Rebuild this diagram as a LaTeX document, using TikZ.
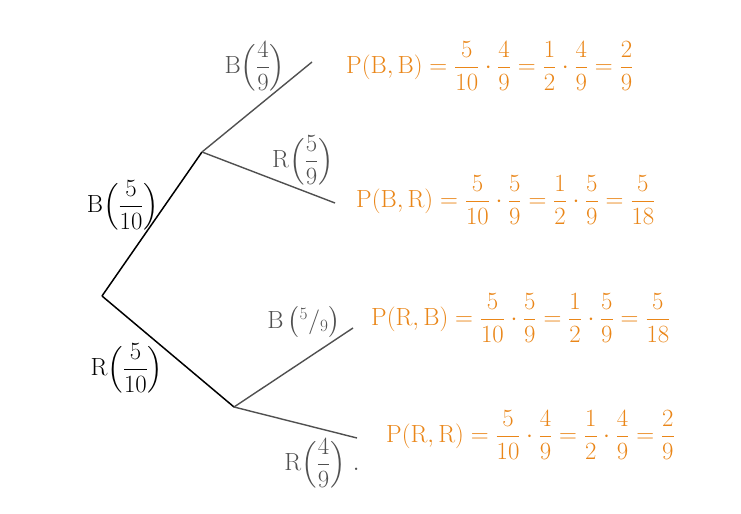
\documentclass[tikz,border=0pt]{standalone}
\usepackage{amsmath,amssymb}
\usepackage{tikz}
\usetikzlibrary{positioning}
\definecolor{penorange}{RGB}{234,134,24}
\definecolor{pengray}{RGB}{80,80,80}

\begin{document}
\begin{tikzpicture}[x=1bp, y=-1bp, >=latex]
  \fill [white] (0,0) rectangle (741,514);
  \useasboundingbox (0,0) rectangle (741,514);

  % branch points
  \coordinate (root) at (102,296);
  \coordinate (nb) at (202,152);
  \coordinate (nr) at (234,407);
  \coordinate (bb) at (312,62);
  \coordinate (br) at (335,203);
  \coordinate (rb) at (353,328);
  \coordinate (rr) at (357,438);

  \draw [line width=1.5bp, black] (root) -- (nb);
  \draw [line width=1.5bp, black] (root) -- (nr);
  \draw [line width=1.4bp, pengray] (nb) -- (bb);
  \draw [line width=1.4bp, pengray] (nb) -- (br);
  \draw [line width=1.4bp, pengray] (nr) -- (rb);
  \draw [line width=1.4bp, pengray] (nr) -- (rr);

  % branch labels
  \node [inner sep=1pt, font=\fontsize{26}{30}\selectfont] (lb) at (123,205) {$\mathrm{B}\Bigl(\dfrac{5}{10}\Bigr)$};
  \node [inner sep=1pt, font=\fontsize{26}{30}\selectfont] (lr) at (127,368) {$\mathrm{R}\Bigl(\dfrac{5}{10}\Bigr)$};
  \node [inner sep=1pt, font=\fontsize{26}{30}\selectfont, pengray] (lbb) at (255,66) {$\mathrm{B}\Bigl(\dfrac{4}{9}\Bigr)$};
  \node [inner sep=1pt, font=\fontsize{26}{30}\selectfont, pengray] (lbr) at (303,160) {$\mathrm{R}\Bigl(\dfrac{5}{9}\Bigr)$};
  \node [inner sep=1pt, font=\fontsize{26}{30}\selectfont, pengray] (lrb) at (304,322) {$\mathrm{B}\,\bigl({}^{5}/{}_{9}\bigr)$};
  \node [inner sep=1pt, font=\fontsize{26}{30}\selectfont, pengray] (lrr) at (322,463) {$\mathrm{R}\Bigl(\dfrac{4}{9}\Bigr)\;.$};

  % results
  \node [inner sep=1pt, anchor=west, penorange, font=\fontsize{27}{30}\selectfont] (pbb) at (345,66)
    {$\mathrm{P}(\mathrm{B},\mathrm{B})=\dfrac{5}{10}\cdot\dfrac{4}{9}=\dfrac{1}{2}\cdot\dfrac{4}{9}=\dfrac{2}{9}$};
  \node [inner sep=1pt, anchor=west, penorange, font=\fontsize{27}{30}\selectfont] (pbr) at (355,200)
    {$\mathrm{P}(\mathrm{B},\mathrm{R})=\dfrac{5}{10}\cdot\dfrac{5}{9}=\dfrac{1}{2}\cdot\dfrac{5}{9}=\dfrac{5}{18}$};
  \node [inner sep=1pt, anchor=west, penorange, font=\fontsize{27}{30}\selectfont] (prb) at (370,318)
    {$\mathrm{P}(\mathrm{R},\mathrm{B})=\dfrac{5}{10}\cdot\dfrac{5}{9}=\dfrac{1}{2}\cdot\dfrac{5}{9}=\dfrac{5}{18}$};
  \node [inner sep=1pt, anchor=west, penorange, font=\fontsize{24}{28}\selectfont] (prr) at (385,435)
    {$\mathrm{P}(\mathrm{R},\mathrm{R})=\dfrac{5}{10}\cdot\dfrac{4}{9}=\dfrac{1}{2}\cdot\dfrac{4}{9}=\dfrac{2}{9}$};
\end{tikzpicture}
\end{document}
